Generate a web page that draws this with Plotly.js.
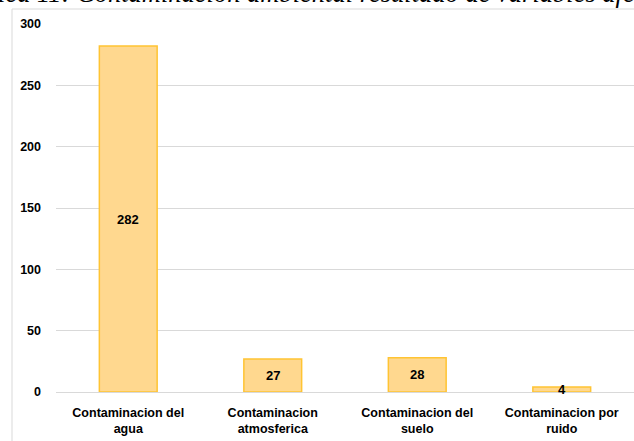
<!DOCTYPE html>
<html>
<head>
<meta charset="utf-8">
<script src="https://cdn.plot.ly/plotly-3.0.1.min.js"></script>
<style>html,body{margin:0;padding:0;background:#fff;}#chart{width:634px;height:441px;}</style>
</head>
<body>
<div id="chart"></div>
<script>
const categories = ["Contaminacion del<br>agua", "Contaminacion<br>atmosferica", "Contaminacion del<br>suelo", "Contaminacion por<br>ruido"];
const values = [282, 27, 28, 4];
const yTicks = [0, 50, 100, 150, 200, 250, 300];
const titleText = "Gráfica 11: Contaminación ambiental resultado de variables afectadas";

const labelFont = {family: 'Liberation Sans, Arial, sans-serif', size: 12.5, color: '#000', weight: 'bold'};

const trace = {
  type: 'bar',
  x: categories,
  y: values,
  width: 0.4,
  marker: {color: '#FFD88F', line: {color: '#FFC433', width: 1.5}},
  textposition: 'none',
  hoverinfo: 'none'
};

const labelAnnotations = categories.map((c, i) => ({
  x: c, y: values[i] / 2, xref: 'x', yref: 'y',
  text: String(values[i]), showarrow: false,
  font: {family: labelFont.family, size: 13, color: '#000', weight: 'bold'},
  xanchor: 'center', yanchor: 'middle'
}));

const layout = {
  width: 634, height: 441,
  margin: {l: 56, r: 0, t: 24, b: 49},
  paper_bgcolor: '#fff', plot_bgcolor: '#fff',
  showlegend: false,
  bargap: 0.6,
  xaxis: {
    type: 'category',
    showgrid: false, zeroline: false,
    showline: false,
    ticks: '',
    ticklabelstandoff: 11,
    tickfont: labelFont,
    fixedrange: true
  },
  yaxis: {
    range: [0, 300],
    tickvals: yTicks,
    ticktext: yTicks.map(String),
    showgrid: true, gridcolor: '#D9D9D9', gridwidth: 1,
    zeroline: true, zerolinecolor: '#D9D9D9', zerolinewidth: 1,
    showline: false, ticks: '',
    ticklabelstandoff: 14,
    tickfont: labelFont,
    fixedrange: true
  },
  shapes: [{
    type: 'rect', xref: 'paper', yref: 'paper',
    x0: (12 - 56) / 578, x1: 1.2, y0: -0.5, y1: (392 - 9) / 368,
    line: {color: '#D9D9D9', width: 1}, fillcolor: 'rgba(0,0,0,0)', layer: 'below'
  }],
  annotations: labelAnnotations.concat([{
    xref: 'paper', yref: 'paper',
    x: (-54 - 56) / 578, y: (392 - 10) / 368,
    xanchor: 'left', yanchor: 'bottom',
    text: '<i>' + titleText + '</i>', showarrow: false,
    font: {family: 'Liberation Serif, Times New Roman, serif', size: 26.5, color: '#000'}
  }])
};

Plotly.newPlot('chart', [trace], layout, {displayModeBar: false, staticPlot: true});
</script>
</body>
</html>
